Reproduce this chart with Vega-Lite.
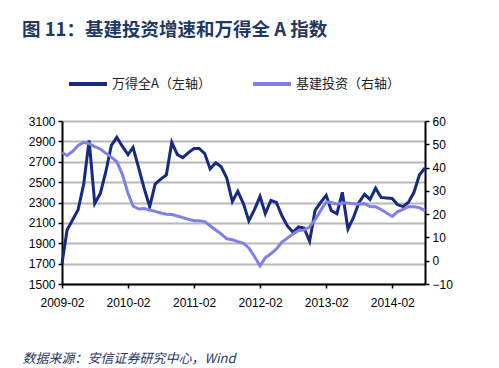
{
  "$schema": "https://vega.github.io/schema/vega-lite/v6.json",
  "width": 363,
  "height": 163,
  "autosize": {"type": "none"},
  "padding": {"left": 62, "top": 121, "right": 74, "bottom": 84},
  "background": "white",
  "title": {
    "text": "图 11：基建投资增速和万得全 A 指数",
    "anchor": "start",
    "frame": "group",
    "font": "Noto Sans CJK SC",
    "fontSize": 18.5,
    "fontWeight": "bold",
    "color": "#1f3864",
    "dx": -40,
    "dy": -14,
    "offset": 10
  },
  "config": {
    "view": {"stroke": null},
    "axis": {
      "labelFont": "Liberation Sans",
      "labelFontSize": 12,
      "labelColor": "#000000",
      "domainColor": "#000000",
      "domainWidth": 2,
      "tickColor": "#000000",
      "tickWidth": 1.5,
      "tickSize": 4
    }
  },
  "data": {
    "values": [
      {"date": "2009-02", "series": "万得全A（左轴）", "value": 1700},
      {"date": "2009-03", "series": "万得全A（左轴）", "value": 2030},
      {"date": "2009-04", "series": "万得全A（左轴）", "value": 2130},
      {"date": "2009-05", "series": "万得全A（左轴）", "value": 2230},
      {"date": "2009-06", "series": "万得全A（左轴）", "value": 2480},
      {"date": "2009-07", "series": "万得全A（左轴）", "value": 2910},
      {"date": "2009-08", "series": "万得全A（左轴）", "value": 2290},
      {"date": "2009-09", "series": "万得全A（左轴）", "value": 2390},
      {"date": "2009-10", "series": "万得全A（左轴）", "value": 2600},
      {"date": "2009-11", "series": "万得全A（左轴）", "value": 2860},
      {"date": "2009-12", "series": "万得全A（左轴）", "value": 2940},
      {"date": "2010-01", "series": "万得全A（左轴）", "value": 2850},
      {"date": "2010-02", "series": "万得全A（左轴）", "value": 2770},
      {"date": "2010-03", "series": "万得全A（左轴）", "value": 2840},
      {"date": "2010-04", "series": "万得全A（左轴）", "value": 2640},
      {"date": "2010-05", "series": "万得全A（左轴）", "value": 2440},
      {"date": "2010-06", "series": "万得全A（左轴）", "value": 2260},
      {"date": "2010-07", "series": "万得全A（左轴）", "value": 2480},
      {"date": "2010-08", "series": "万得全A（左轴）", "value": 2530},
      {"date": "2010-09", "series": "万得全A（左轴）", "value": 2570},
      {"date": "2010-10", "series": "万得全A（左轴）", "value": 2890},
      {"date": "2010-11", "series": "万得全A（左轴）", "value": 2770},
      {"date": "2010-12", "series": "万得全A（左轴）", "value": 2740},
      {"date": "2011-01", "series": "万得全A（左轴）", "value": 2790},
      {"date": "2011-02", "series": "万得全A（左轴）", "value": 2830},
      {"date": "2011-03", "series": "万得全A（左轴）", "value": 2830},
      {"date": "2011-04", "series": "万得全A（左轴）", "value": 2780},
      {"date": "2011-05", "series": "万得全A（左轴）", "value": 2630},
      {"date": "2011-06", "series": "万得全A（左轴）", "value": 2690},
      {"date": "2011-07", "series": "万得全A（左轴）", "value": 2650},
      {"date": "2011-08", "series": "万得全A（左轴）", "value": 2540},
      {"date": "2011-09", "series": "万得全A（左轴）", "value": 2310},
      {"date": "2011-10", "series": "万得全A（左轴）", "value": 2410},
      {"date": "2011-11", "series": "万得全A（左轴）", "value": 2290},
      {"date": "2011-12", "series": "万得全A（左轴）", "value": 2120},
      {"date": "2012-01", "series": "万得全A（左轴）", "value": 2230},
      {"date": "2012-02", "series": "万得全A（左轴）", "value": 2360},
      {"date": "2012-03", "series": "万得全A（左轴）", "value": 2190},
      {"date": "2012-04", "series": "万得全A（左轴）", "value": 2320},
      {"date": "2012-05", "series": "万得全A（左轴）", "value": 2300},
      {"date": "2012-06", "series": "万得全A（左轴）", "value": 2170},
      {"date": "2012-07", "series": "万得全A（左轴）", "value": 2070},
      {"date": "2012-08", "series": "万得全A（左轴）", "value": 2010},
      {"date": "2012-09", "series": "万得全A（左轴）", "value": 2060},
      {"date": "2012-10", "series": "万得全A（左轴）", "value": 2050},
      {"date": "2012-11", "series": "万得全A（左轴）", "value": 1920},
      {"date": "2012-12", "series": "万得全A（左轴）", "value": 2220},
      {"date": "2013-01", "series": "万得全A（左轴）", "value": 2300},
      {"date": "2013-02", "series": "万得全A（左轴）", "value": 2370},
      {"date": "2013-03", "series": "万得全A（左轴）", "value": 2220},
      {"date": "2013-04", "series": "万得全A（左轴）", "value": 2190},
      {"date": "2013-05", "series": "万得全A（左轴）", "value": 2400},
      {"date": "2013-06", "series": "万得全A（左轴）", "value": 2040},
      {"date": "2013-07", "series": "万得全A（左轴）", "value": 2150},
      {"date": "2013-08", "series": "万得全A（左轴）", "value": 2300},
      {"date": "2013-09", "series": "万得全A（左轴）", "value": 2380},
      {"date": "2013-10", "series": "万得全A（左轴）", "value": 2330},
      {"date": "2013-11", "series": "万得全A（左轴）", "value": 2440},
      {"date": "2013-12", "series": "万得全A（左轴）", "value": 2350},
      {"date": "2014-01", "series": "万得全A（左轴）", "value": 2345},
      {"date": "2014-02", "series": "万得全A（左轴）", "value": 2340},
      {"date": "2014-03", "series": "万得全A（左轴）", "value": 2280},
      {"date": "2014-04", "series": "万得全A（左轴）", "value": 2260},
      {"date": "2014-05", "series": "万得全A（左轴）", "value": 2300},
      {"date": "2014-06", "series": "万得全A（左轴）", "value": 2400},
      {"date": "2014-07", "series": "万得全A（左轴）", "value": 2570},
      {"date": "2014-08", "series": "万得全A（左轴）", "value": 2640},
      {"date": "2009-02", "series": "基建投资（右轴）", "value": 46.5},
      {"date": "2009-03", "series": "基建投资（右轴）", "value": 45.2},
      {"date": "2009-04", "series": "基建投资（右轴）", "value": 47},
      {"date": "2009-05", "series": "基建投资（右轴）", "value": 49.5},
      {"date": "2009-06", "series": "基建投资（右轴）", "value": 50.8},
      {"date": "2009-07", "series": "基建投资（右轴）", "value": 50.3},
      {"date": "2009-08", "series": "基建投资（右轴）", "value": 49},
      {"date": "2009-09", "series": "基建投资（右轴）", "value": 48},
      {"date": "2009-10", "series": "基建投资（右轴）", "value": 46.2},
      {"date": "2009-11", "series": "基建投资（右轴）", "value": 44.5},
      {"date": "2009-12", "series": "基建投资（右轴）", "value": 42.5},
      {"date": "2010-01", "series": "基建投资（右轴）", "value": 37},
      {"date": "2010-02", "series": "基建投资（右轴）", "value": 29},
      {"date": "2010-03", "series": "基建投资（右轴）", "value": 23.5},
      {"date": "2010-04", "series": "基建投资（右轴）", "value": 22.2},
      {"date": "2010-05", "series": "基建投资（右轴）", "value": 22.4},
      {"date": "2010-06", "series": "基建投资（右轴）", "value": 21.8},
      {"date": "2010-07", "series": "基建投资（右轴）", "value": 21.2},
      {"date": "2010-08", "series": "基建投资（右轴）", "value": 20.5},
      {"date": "2010-09", "series": "基建投资（右轴）", "value": 20},
      {"date": "2010-10", "series": "基建投资（右轴）", "value": 19.8},
      {"date": "2010-11", "series": "基建投资（右轴）", "value": 19.2},
      {"date": "2010-12", "series": "基建投资（右轴）", "value": 18.5},
      {"date": "2011-01", "series": "基建投资（右轴）", "value": 17.8},
      {"date": "2011-02", "series": "基建投资（右轴）", "value": 17.2},
      {"date": "2011-03", "series": "基建投资（右轴）", "value": 17.2},
      {"date": "2011-04", "series": "基建投资（右轴）", "value": 16.8},
      {"date": "2011-05", "series": "基建投资（右轴）", "value": 15},
      {"date": "2011-06", "series": "基建投资（右轴）", "value": 13.2},
      {"date": "2011-07", "series": "基建投资（右轴）", "value": 11.5},
      {"date": "2011-08", "series": "基建投资（右轴）", "value": 9.4},
      {"date": "2011-09", "series": "基建投资（右轴）", "value": 9},
      {"date": "2011-10", "series": "基建投资（右轴）", "value": 8.2},
      {"date": "2011-11", "series": "基建投资（右轴）", "value": 7.5},
      {"date": "2011-12", "series": "基建投资（右轴）", "value": 5.5},
      {"date": "2012-01", "series": "基建投资（右轴）", "value": 1.8},
      {"date": "2012-02", "series": "基建投资（右轴）", "value": -2.2},
      {"date": "2012-03", "series": "基建投资（右轴）", "value": 1.3},
      {"date": "2012-04", "series": "基建投资（右轴）", "value": 3},
      {"date": "2012-05", "series": "基建投资（右轴）", "value": 5},
      {"date": "2012-06", "series": "基建投资（右轴）", "value": 8},
      {"date": "2012-07", "series": "基建投资（右轴）", "value": 9.7},
      {"date": "2012-08", "series": "基建投资（右轴）", "value": 11.5},
      {"date": "2012-09", "series": "基建投资（右轴）", "value": 13},
      {"date": "2012-10", "series": "基建投资（右轴）", "value": 13.2},
      {"date": "2012-11", "series": "基建投资（右轴）", "value": 14.5},
      {"date": "2012-12", "series": "基建投资（右轴）", "value": 17.5},
      {"date": "2013-01", "series": "基建投资（右轴）", "value": 21.5},
      {"date": "2013-02", "series": "基建投资（右轴）", "value": 25.3},
      {"date": "2013-03", "series": "基建投资（右轴）", "value": 25},
      {"date": "2013-04", "series": "基建投资（右轴）", "value": 24.3},
      {"date": "2013-05", "series": "基建投资（右轴）", "value": 24.8},
      {"date": "2013-06", "series": "基建投资（右轴）", "value": 24.8},
      {"date": "2013-07", "series": "基建投资（右轴）", "value": 24.5},
      {"date": "2013-08", "series": "基建投资（右轴）", "value": 24.2},
      {"date": "2013-09", "series": "基建投资（右轴）", "value": 24.5},
      {"date": "2013-10", "series": "基建投资（右轴）", "value": 23.3},
      {"date": "2013-11", "series": "基建投资（右轴）", "value": 23.2},
      {"date": "2013-12", "series": "基建投资（右轴）", "value": 22},
      {"date": "2014-01", "series": "基建投资（右轴）", "value": 20.5},
      {"date": "2014-02", "series": "基建投资（右轴）", "value": 19},
      {"date": "2014-03", "series": "基建投资（右轴）", "value": 21},
      {"date": "2014-04", "series": "基建投资（右轴）", "value": 22},
      {"date": "2014-05", "series": "基建投资（右轴）", "value": 23.2},
      {"date": "2014-06", "series": "基建投资（右轴）", "value": 23.2},
      {"date": "2014-07", "series": "基建投资（右轴）", "value": 22.8},
      {"date": "2014-08", "series": "基建投资（右轴）", "value": 21.5}
    ],
    "format": {"parse": {"date": "date:'%Y-%m'"}}
  },
  "encoding": {
    "x": {
      "field": "date",
      "type": "temporal",
      "scale": {"domain": [{"year": 2009, "month": 2, "date": 1}, {"year": 2014, "month": 8, "date": 1}]},
      "axis": {
        "values": [
          {"year": 2009, "month": 2, "date": 1},
          {"year": 2010, "month": 2, "date": 1},
          {"year": 2011, "month": 2, "date": 1},
          {"year": 2012, "month": 2, "date": 1},
          {"year": 2013, "month": 2, "date": 1},
          {"year": 2014, "month": 2, "date": 1}
        ],
        "format": "%Y-%m",
        "grid": false,
        "labelPadding": 9,
        "labelFlush": false,
        "title": "数据来源：安信证券研究中心，Wind",
        "titleFont": "Noto Sans CJK SC",
        "titleFontSize": 13,
        "titleFontStyle": "italic",
        "titleFontWeight": "normal",
        "titleColor": "#1f3864",
        "titleAnchor": "start",
        "titleAlign": "left",
        "titleBaseline": "alphabetic",
        "titleX": -40,
        "titleY": 78
      }
    },
    "color": {
      "field": "series",
      "type": "nominal",
      "scale": {"domain": ["万得全A（左轴）", "基建投资（右轴）"], "range": ["#162a80", "#8080e6"]},
      "legend": {
        "title": null,
        "orient": "none",
        "direction": "horizontal",
        "legendX": 5,
        "legendY": -58,
        "symbolType": "stroke",
        "symbolSize": 1444,
        "symbolStrokeWidth": 4,
        "labelFont": "Noto Sans CJK SC",
        "labelFontSize": 13,
        "labelColor": "#222222",
        "labelOffset": 3,
        "columnPadding": 34
      }
    }
  },
  "layer": [
    {
      "transform": [{"filter": "datum.series === '万得全A（左轴）'"}],
      "mark": {"type": "line", "strokeWidth": 3},
      "encoding": {
        "y": {
          "field": "value",
          "type": "quantitative",
          "scale": {"domain": [1500, 3100], "nice": false, "zero": false},
          "axis": {
            "values": [1500, 1700, 1900, 2100, 2300, 2500, 2700, 2900, 3100],
            "format": "d",
            "title": null,
            "grid": true,
            "gridColor": "#b8b8b8",
            "gridWidth": 2,
            "labelPadding": 3
          }
        }
      }
    },
    {
      "transform": [{"filter": "datum.series === '基建投资（右轴）'"}],
      "mark": {"type": "line", "strokeWidth": 3},
      "encoding": {
        "y": {
          "field": "value",
          "type": "quantitative",
          "scale": {"domain": [-10, 60], "nice": false, "zero": false},
          "axis": {
            "orient": "right",
            "values": [-10, 0, 10, 20, 30, 40, 50, 60],
            "title": null,
            "grid": false,
            "labelPadding": 3
          }
        }
      }
    }
  ],
  "resolve": {"scale": {"y": "independent"}}
}
